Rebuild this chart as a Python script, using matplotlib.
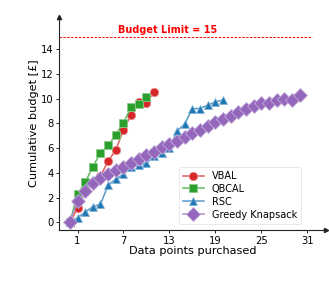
import matplotlib
matplotlib.use("Agg")
import matplotlib.pyplot as plt
from matplotlib.colors import to_rgb
import numpy as np

vbal = [0, 1.13, 2.45, 3.15, 3.75, 4.96, 5.85, 7.48, 8.7, 9.72, 9.65, 10.55]
qbcal = [0, 2.27, 3.24, 4.5, 5.6, 6.22, 7.08, 8.07, 9.29, 9.56, 10.1]
rsc = [0, 0.38, 0.84, 1.27, 1.46, 3.02, 3.5, 3.88, 4.5, 4.6, 4.8, 5.35, 5.62,
       6.02, 7.4, 7.95, 9.2, 9.2, 9.48, 9.72, 9.9]
greedy = [0, 1.7, 2.53, 3.2, 3.6, 3.88, 4.23, 4.47, 4.82, 5.1, 5.45, 5.72, 6.07,
          6.34, 6.6, 6.93, 7.2, 7.47, 7.8, 8.1, 8.33, 8.6, 8.88, 9.17, 9.42,
          9.65, 9.63, 9.85, 9.96, 9.9, 10.3]
series_names = ["VBAL", "QBCAL", "RSC", "Greedy Knapsack"]
budget_limit = 15
xticks = [1, 7, 13, 19, 25, 31]
yticks = [0, 2, 4, 6, 8, 10, 12, 14]

colors = ["#d62728", "#2ca02c", "#1f77b4", "#9467bd"]
markers = ["o", "s", "^", "D"]
msizes = [6.0, 6.0, 6.0, 7.0]

def lighten(c, f):
    r, g, b = to_rgb(c)
    return (r + (1 - r) * f, g + (1 - g) * f, b + (1 - b) * f)

fig = plt.figure(figsize=(3.29, 2.82), dpi=100)
ax = fig.add_axes([0.179, 0.184, 0.811, 0.756])

for data, name, c, m, ms in zip([vbal, qbcal, rsc, greedy], series_names, colors, markers, msizes):
    x = np.arange(len(data))
    ax.plot(x, data, color=lighten(c, 0.25), lw=1.1, marker=m, ms=ms,
            markerfacecolor=c, markeredgecolor=lighten(c, 0.45), markeredgewidth=0.6,
            label=name)

ax.axhline(budget_limit, xmax=0.95, color="red", lw=0.7, linestyle=(0, (2.5, 1.5)))
ax.text(12.8, budget_limit + 0.12, f"Budget Limit = {budget_limit}", color="red",
        fontsize=7.0, fontweight="bold", ha="center", va="bottom")

ax.set_xlim(-1.43, 33.4)
ax.set_ylim(-0.62, 16.6)
ax.set_xticks(xticks)
ax.set_yticks(yticks)
ax.tick_params(labelsize=7.2, length=2.5, width=0.6, pad=1.5)

for s in ["top", "right"]:
    ax.spines[s].set_visible(False)
for s in ["left", "bottom"]:
    ax.spines[s].set_linewidth(0.8)
    ax.spines[s].set_color("#222222")
ax.plot(1, 0, ">", color="#222222", ms=3, transform=ax.transAxes, clip_on=False)
ax.plot(0, 1, "^", color="#222222", ms=3, transform=ax.transAxes, clip_on=False)

ax.set_xlabel("Data points purchased", fontsize=8.1, labelpad=0.5)
ax.set_ylabel("Cumulative budget [£]", fontsize=8.1, labelpad=1.5)

leg = ax.legend(loc="lower right", bbox_to_anchor=(0.925, 0.008), fontsize=7.0,
                frameon=True, handlelength=2.2, borderpad=0.4, labelspacing=0.3)
leg.get_frame().set_edgecolor("#dddddd")
leg.get_frame().set_linewidth(0.6)

fig.savefig("out.png", dpi=100)
